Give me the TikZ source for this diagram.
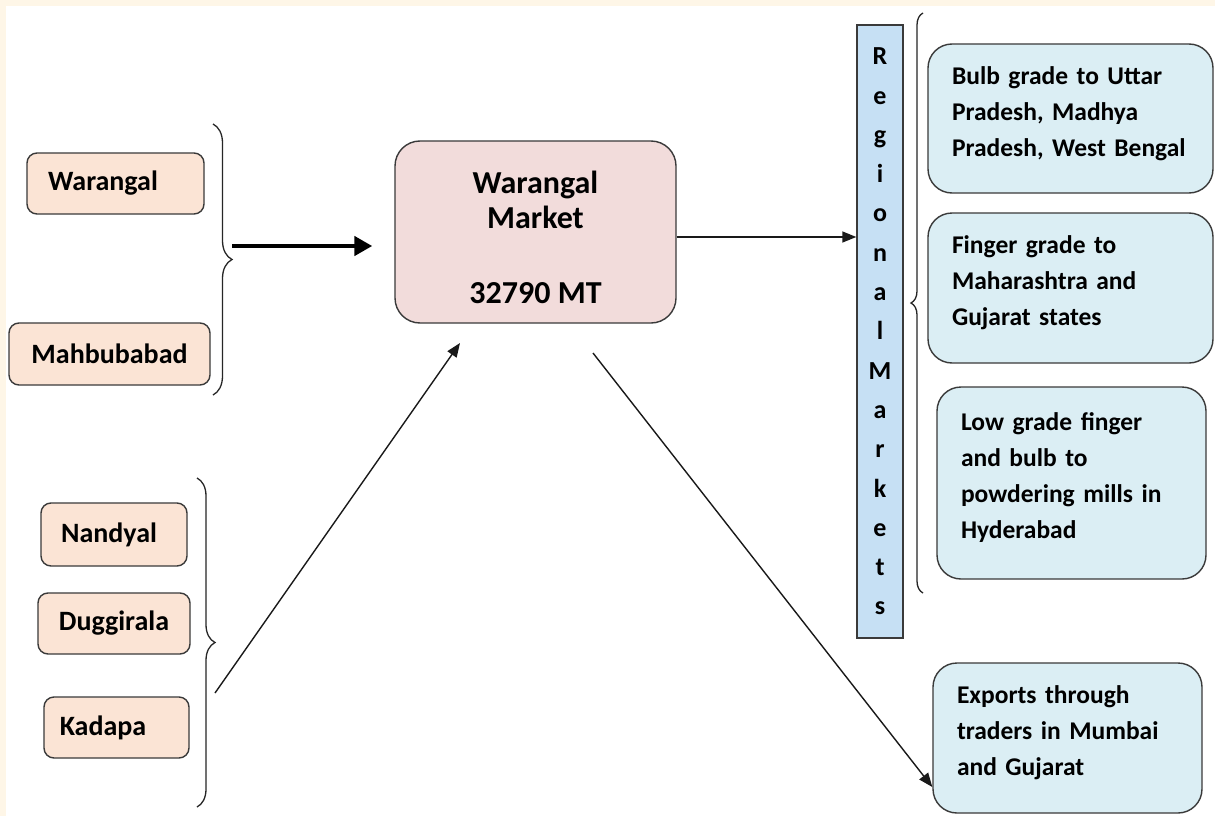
\documentclass[tikz,border=0pt]{standalone}
\usepackage{fontspec}
\setmainfont{Carlito}
\usetikzlibrary{arrows.meta,decorations.pathreplacing}
\definecolor{cream}{HTML}{FEF6E7}
\definecolor{peach}{HTML}{FBE4D5}
\definecolor{rose}{HTML}{F2DCDB}
\definecolor{paleblue}{HTML}{DBEEF4}
\definecolor{colblue}{HTML}{C6E0F4}
\definecolor{edge}{HTML}{3A3A3A}
% invisible struts that nudge a text block within its box
\newcommand\toppad{\rule{0pt}{34pt}}
\newcommand\botpad{\rule[-14pt]{0pt}{1pt}}

\begin{document}
\begin{tikzpicture}[x=1pt,y=-1pt,
  src/.style={draw=edge,line width=1.4pt,fill=peach,rounded corners=10pt,
    inner sep=0pt,align=center,font=\bfseries\fontsize{28}{34}\selectfont},
  hub/.style={draw=edge,line width=1.4pt,fill=rose,rounded corners=25pt,
    inner sep=0pt,align=center,font=\bfseries\fontsize{32}{35}\selectfont},
  dest/.style={draw=edge,line width=1.4pt,fill=paleblue,rounded corners=24pt,
    inner xsep=24pt,inner ysep=0pt,align=left,font=\bfseries\fontsize{25.5}{36}\selectfont},
  column/.style={draw=edge,line width=1.4pt,fill=colblue,inner sep=0pt,
    align=center,font=\bfseries\fontsize{26}{39.3}\selectfont},
  bracket/.style={draw=black!85,line width=1.3pt,decorate},
  flow/.style={draw=black!90,line width=1.4pt,-{Triangle[length=14pt,width=11pt]}},
  bigflow/.style={draw=black,line width=4.5pt,-{Triangle[length=18pt,width=19pt]}}
]
% page ground with its cream edge
\fill[cream] (0,0) rectangle (1215,816);
\fill[white] (6,6) rectangle (1215,816);
\useasboundingbox (0,0) rectangle (1215,816);

% source markets, first group
\node[src,minimum width=177pt,minimum height=61pt] (war) at (115.5,183.5) {Warangal\hspace*{25pt}};
\node[src,minimum width=201pt,minimum height=62pt] (mah) at (109.5,354) {Mahbubabad};

% source markets, second group
\node[src,minimum width=146pt,minimum height=63pt] (nan) at (114,534.5) {Nandyal\hspace*{10pt}};
\node[src,minimum width=152pt,minimum height=61pt] (dug) at (114,623.5) {Duggirala};
\node[src,minimum width=145pt,minimum height=61pt] (kad) at (116.5,727.5) {Kadapa\hspace*{27pt}};

% central market
\node[hub,minimum width=281pt,minimum height=182pt] (main) at (535.5,232)
  {\toppad Warangal\\Market\\[40pt]32790 MT};

% regional markets column
\node[column,minimum width=46pt,minimum height=613pt] (reg) at (880,331.5)
  {R\\e\\g\\i\\o\\n\\a\\l\\M\\a\\r\\k\\e\\t\\s};

% destinations
\node[dest,text width=237pt,minimum height=149pt] (bulb) at (1070.5,118.5)
  {Bulb grade to Uttar\\Pradesh, Madhya\\Pradesh, West Bengal\botpad};
\node[dest,text width=237pt,minimum height=150pt] (fing) at (1070.5,288)
  {Finger grade to\\Maharashtra and\\Gujarat states\botpad};
\node[dest,text width=221pt,minimum height=192pt] (low) at (1071.5,483)
  {Low grade finger\\and bulb to\\powdering mills in\\Hyderabad\botpad};
\node[dest,text width=221pt,minimum height=150pt] (exp) at (1067.5,738)
  {Exports through\\traders in Mumbai\\and Gujarat\botpad};

% braces grouping the boxes
\draw[bracket,decoration={brace,amplitude=19pt}] (213,124) -- (213,395);
\draw[bracket,decoration={brace,amplitude=18pt}] (197,478) -- (197,807);
\draw[bracket,decoration={brace,amplitude=12pt}] (923,593) -- (923,13);

% arrow tails beside the braces
\coordinate (tailA) at (232,246);
\coordinate (tailB) at (215,693);
\coordinate (headB) at (460,343);
\coordinate (tailC) at (593,353);

% connectors
\draw[bigflow,shorten >=22pt] (tailA) -- (tailA -| main.west);
\draw[flow] (tailB) -- (headB);
\draw[flow] ([yshift=-5pt]main.east) -- ([yshift=-5pt]main.east -| reg.west);
\draw[flow] (tailC) -- ([yshift=-49pt]exp.west);
\end{tikzpicture}
\end{document}
